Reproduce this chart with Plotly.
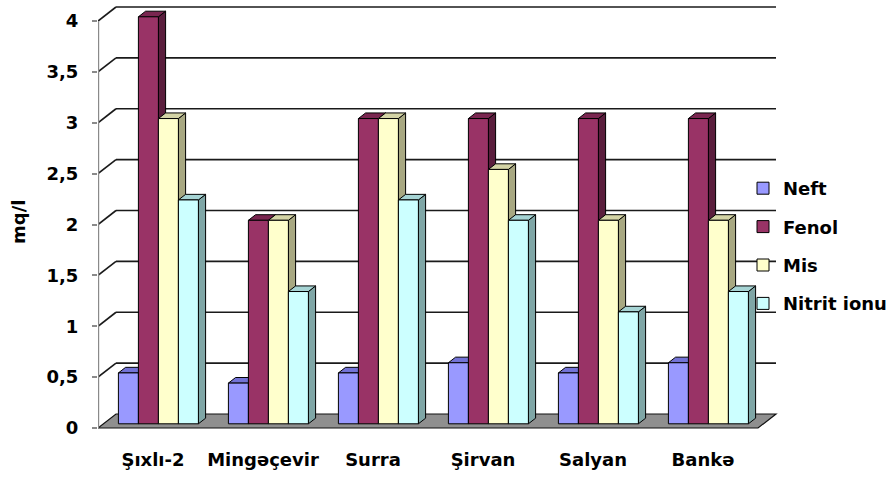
import plotly.graph_objects as go

# ---- data ----
stations = ["Şıxlı-2", "Mingəçevir", "Surra", "Şirvan", "Salyan", "Bankə"]
series_names = ["Neft", "Fenol", "Mis", "Nitrit ionu"]
neft = [0.5, 0.4, 0.5, 0.6, 0.5, 0.6]
fenol = [4, 2, 3, 3, 3, 3]
mis = [3, 2, 3, 2.5, 2, 2]
nitrit = [2.2, 1.3, 2.2, 2.0, 1.1, 1.3]
y_ticks = [0, 0.5, 1, 1.5, 2, 2.5, 3, 3.5, 4]
y_tick_text = ["0", "0,5", "1", "1,5", "2", "2,5", "3", "3,5", "4"]

series_values = [neft, fenol, mis, nitrit]

# ---- styling ----
front_colors = ["#9999FF", "#993366", "#FFFFCC", "#CCFFFF"]
side_colors = ["#5c5cb0", "#5a1e3d", "#a8a882", "#7fa6a6"]
top_colors = ["#7373d6", "#7a2650", "#d4d4a6", "#a6d4d4"]

FONT = "DejaVu Sans, Liberation Sans, Arial, sans-serif"
FSIZE = 18
TXT = dict(family=FONT, size=FSIZE, color="#000", weight=700)

# pixel frame of the plotting area
W_PX, H_PX = 889, 479
L, R, T, B = 98, 780, 4, 432
ORIGIN_X, ORIGIN_Y = 98, 428        # front corner of floor (value 0)
PX_PER_CAT = 110.0
PX_PER_UNIT = 101.75
DEPTH_PX = (18.0, 14.0)             # depth offset of the back wall

x_range = [(L - ORIGIN_X) / PX_PER_CAT, (R - ORIGIN_X) / PX_PER_CAT]
y_range = [(ORIGIN_Y - B) / PX_PER_UNIT, (ORIGIN_Y - T) / PX_PER_UNIT]
DX = DEPTH_PX[0] / PX_PER_CAT
DY = DEPTH_PX[1] / PX_PER_UNIT

n_cat = len(stations)
BAR_W = 20.0 / PX_PER_CAT
GROUP_W = BAR_W * len(series_names)
DEPTH_START, DEPTH_LEN = 0.3, 0.4     # bars sit in the middle of the floor depth
bx, by = DEPTH_START * DX, DEPTH_START * DY
sx, sy = DEPTH_LEN * DX, DEPTH_LEN * DY

shapes = []

# floor
shapes.append(dict(
    type="path", xref="x", yref="y", layer="below",
    path=f"M0,0 L{n_cat},0 L{n_cat + DX},{DY} L{DX},{DY} Z",
    fillcolor="#8f8f8f", line=dict(color="#111", width=1.2)))

# back-wall gridlines and their side-wall diagonals
for v in y_ticks[1:]:
    shapes.append(dict(type="line", xref="x", yref="y", layer="below",
                       x0=DX, y0=v + DY, x1=n_cat + DX, y1=v + DY,
                       line=dict(color="#1a1a1a", width=1.6)))
    shapes.append(dict(type="line", xref="x", yref="y", layer="below",
                       x0=0, y0=v, x1=DX, y1=v + DY,
                       line=dict(color="#1a1a1a", width=1.6)))

# value axis line on the front edge
shapes.append(dict(type="line", xref="x", yref="y", layer="below",
                   x0=0, y0=0, x1=0, y1=max(y_ticks),
                   line=dict(color="#8a8a8a", width=2.4)))

# side and top faces of each bar (front faces are the bar traces)
side_shapes, top_shapes = [], []
for k, vals in enumerate(series_values):
    for i, v in enumerate(vals):
        x0 = i + (1 - GROUP_W) / 2 + bx + k * BAR_W
        x1 = x0 + BAR_W
        y0 = by
        y1 = by + v
        side_shapes.append(dict(
            type="path", xref="x", yref="y", layer="below",
            path=f"M{x1},{y0} L{x1 + sx},{y0 + sy} L{x1 + sx},{y1 + sy} L{x1},{y1} Z",
            fillcolor=side_colors[k], line=dict(color="#000", width=1)))
        top_shapes.append(dict(
            type="path", xref="x", yref="y", layer="below",
            path=f"M{x0},{y1} L{x1},{y1} L{x1 + sx},{y1 + sy} L{x0 + sx},{y1 + sy} Z",
            fillcolor=top_colors[k], line=dict(color="#000", width=1)))
shapes += side_shapes + top_shapes

fig = go.Figure()
centers = [i + 0.5 for i in range(n_cat)]
for k, (name, vals) in enumerate(zip(series_names, series_values)):
    fig.add_trace(go.Bar(
        name=name, x=centers, y=vals, base=by,
        width=BAR_W, offset=-0.5 + (1 - GROUP_W) / 2 + bx + k * BAR_W,
        marker=dict(color=front_colors[k], line=dict(color="#000", width=1)),
        legendgroup=name, hoverinfo="skip"))

plot_w = R - L
plot_h = B - T

fig.update_layout(
    width=W_PX, height=H_PX,
    margin=dict(l=L, r=W_PX - R, t=T, b=H_PX - B, pad=0, autoexpand=False),
    paper_bgcolor="white", plot_bgcolor="white",
    barmode="overlay",
    shapes=shapes,
    font=TXT,
    xaxis=dict(range=x_range, tickvals=centers, ticktext=stations,
               showgrid=False, zeroline=False, showline=False, ticks="",
               ticklabelstandoff=15, automargin=False, tickfont=TXT),
    yaxis=dict(range=y_range, tickvals=y_ticks, ticktext=y_tick_text,
               showgrid=False, zeroline=False, showline=False,
               ticks="outside", ticklen=5, tickcolor="#8a8a8a", tickwidth=1.5,
               ticklabelstandoff=10, automargin=False, tickfont=TXT),
    legend=dict(xref="container", yref="container",
                x=743 / W_PX, y=1 - 170 / H_PX, xanchor="left", yanchor="top",
                traceorder="grouped", tracegroupgap=12,
                bgcolor="rgba(0,0,0,0)", itemclick=False, font=TXT),
    annotations=[dict(text="mq/l", xref="paper", yref="paper",
                      x=(18 - L) / plot_w, y=(B - 222) / plot_h,
                      xanchor="center", yanchor="middle", textangle=-90,
                      showarrow=False, font=TXT)],
    showlegend=True,
)

fig.write_html("out.html")
